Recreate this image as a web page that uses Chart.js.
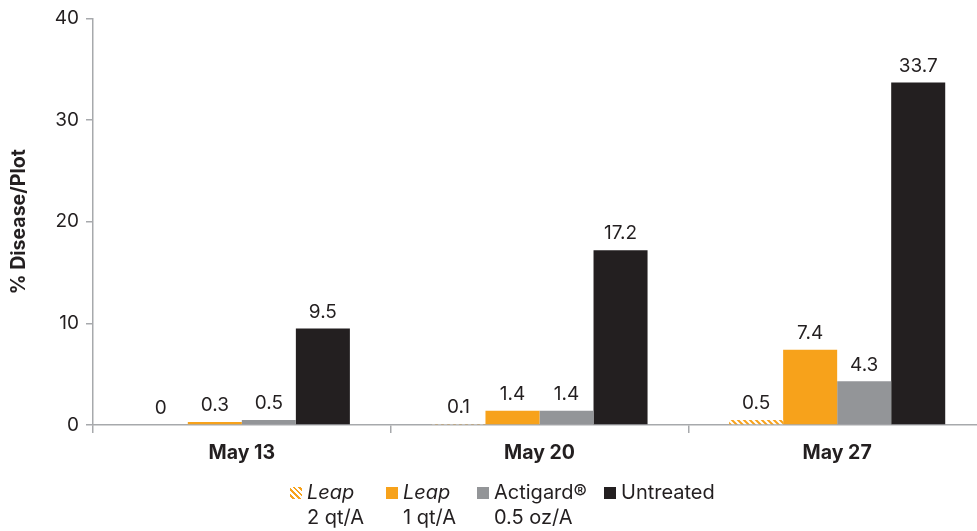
<!DOCTYPE html>
<html>
<head>
<meta charset="utf-8">
<script src="https://cdn.jsdelivr.net/npm/chart.js@4"></script>
<style>
  html, body { margin: 0; padding: 0; background: #fff; }
  .wrap { position: relative; width: 977px; height: 531px; overflow: hidden; }
  canvas { display: block; }
  .legend { position: absolute; left: 0; top: 480px; width: 977px; font-family: Inter, sans-serif; font-size: 20px; color: #231f20; }
  .item { position: absolute; top: 0; line-height: 25px; }
  .item .sw { position: absolute; left: -17px; top: 7px; width: 12px; height: 12px; }
  .item i { font-style: italic; }
</style>
</head>
<body>
<div class="wrap">
  <canvas id="chart" width="986" height="531"></canvas>
  <div class="legend" id="legend"></div>
</div>
<script>
const categories = ['May 13', 'May 20', 'May 27'];
const leap2qt = [0, 0.1, 0.5];
const leap1qt = [0.3, 1.4, 7.4];
const actigard = [0.5, 1.4, 4.3];
const untreated = [9.5, 17.2, 33.7];
const yTicks = [0, 10, 20, 30, 40];

const orange = '#f7a21b';
const grey = '#939598';
const black = '#231f20';

// diagonal orange/white stripes for the 2 qt/A rate
function stripes() {
  const c = document.createElement('canvas');
  c.width = 6; c.height = 6;
  const g = c.getContext('2d');
  g.fillStyle = '#fff';
  g.fillRect(0, 0, 6, 6);
  g.strokeStyle = orange;
  g.lineWidth = 2;
  g.beginPath();
  g.moveTo(-1, -1); g.lineTo(7, 7);
  g.moveTo(-4, 2); g.lineTo(2, 8);
  g.moveTo(2, -4); g.lineTo(8, 2);
  g.stroke();
  return g.createPattern(c, 'repeat');
}
const hatch = stripes();

const series = [
  { name: 'Leap', sub: '2 qt/A', italic: true, data: leap2qt, color: hatch, swatch: 'repeating-linear-gradient(45deg,#fff 0 2px,' + orange + ' 2px 4px)', x: 307 },
  { name: 'Leap', sub: '1 qt/A', italic: true, data: leap1qt, color: orange, swatch: orange, x: 403 },
  { name: 'Actigard®', sub: '0.5 oz/A', italic: false, data: actigard, color: grey, swatch: grey, x: 494 },
  { name: 'Untreated', sub: '', italic: false, data: untreated, color: black, swatch: black, x: 621 }
];

// value labels above each bar
const valueLabels = {
  id: 'valueLabels',
  afterDatasetsDraw(chart) {
    const ctx = chart.ctx;
    ctx.save();
    ctx.font = '19px Inter, sans-serif';
    ctx.fillStyle = black;
    ctx.textAlign = 'center';
    ctx.textBaseline = 'bottom';
    chart.data.datasets.forEach((ds, i) => {
      chart.getDatasetMeta(i).data.forEach((bar, j) => {
        ctx.fillText(String(ds.data[j]), bar.x, bar.y - 7);
      });
    });
    ctx.restore();
  }
};

new Chart(document.getElementById('chart'), {
  type: 'bar',
  data: {
    labels: categories,
    datasets: series.map(s => ({
      label: s.name + ' ' + s.sub,
      data: s.data,
      backgroundColor: s.color,
      borderWidth: 0,
      categoryPercentage: 0.726,
      barPercentage: 1
    }))
  },
  options: {
    responsive: false,
    animation: false,
    layout: { padding: { top: 8, right: 0, bottom: 60, left: 0 } },
    plugins: { legend: { display: false }, tooltip: { enabled: false } },
    scales: {
      x: {
        grid: { display: true, drawOnChartArea: false, drawTicks: true, tickLength: 8, color: '#a7a9ac', lineWidth: 1.5 },
        border: { color: '#a7a9ac', width: 1.5 },
        ticks: { color: black, font: { family: 'Inter, sans-serif', size: 19.5, weight: 'bold' }, padding: 8 },
        afterFit(scale) { scale.height = 46; }
      },
      y: {
        min: 0,
        max: 40,
        afterBuildTicks(scale) { scale.ticks = yTicks.map(v => ({ value: v })); },
        grid: { display: true, drawOnChartArea: false, drawTicks: true, tickLength: 7, color: '#a7a9ac', lineWidth: 1.5 },
        border: { color: '#a7a9ac', width: 1.5 },
        ticks: { color: black, font: { family: 'Inter, sans-serif', size: 19 }, padding: 7 },
        title: { display: true, text: '% Disease/Plot', color: black, font: { family: 'Inter, sans-serif', size: 19.5, weight: 'bold' }, padding: { top: 7, bottom: 8 } },
        afterFit(scale) { scale.width = 93; }
      }
    }
  },
  plugins: [valueLabels]
});

// two-line legend under the plot
const legend = document.getElementById('legend');
series.forEach(s => {
  const el = document.createElement('div');
  el.className = 'item';
  el.style.left = s.x + 'px';
  el.innerHTML = '<span class="sw" style="background:' + s.swatch + '"></span>' +
    (s.italic ? '<i>' + s.name + '</i>' : s.name) + (s.sub ? '<br>' + s.sub : '');
  legend.appendChild(el);
});
</script>
</body>
</html>
